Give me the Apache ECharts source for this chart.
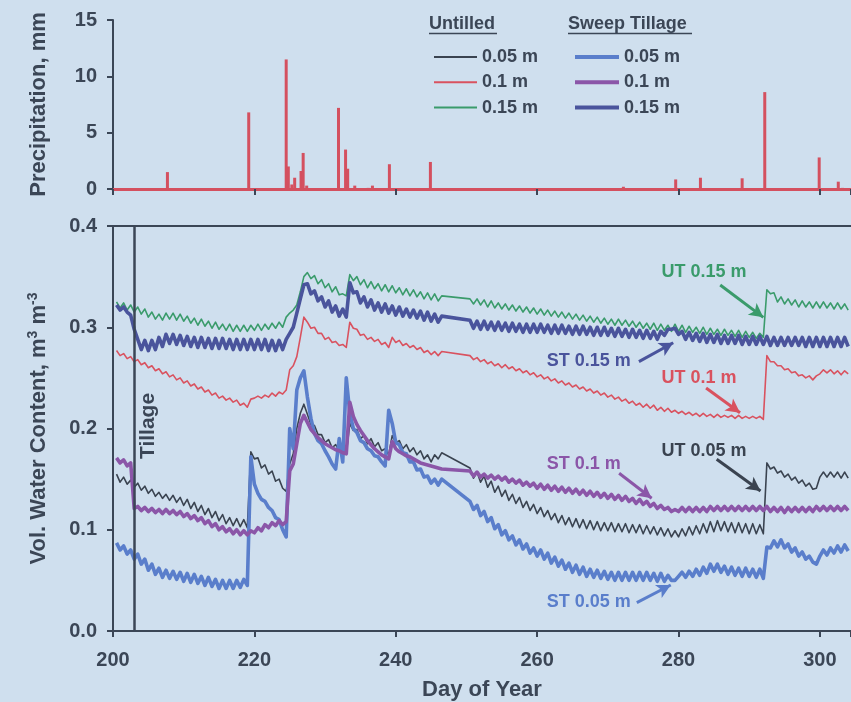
<!DOCTYPE html>
<html>
<head>
<meta charset="utf-8">
<script src="https://cdn.jsdelivr.net/npm/echarts@6/dist/echarts.min.js"></script>
<style>
  html, body { margin: 0; padding: 0; background: #cfdfee; }
  #chart { width: 851px; height: 702px; }
</style>
</head>
<body>
<div id="chart"></div>
<script>
// 降水量 (mm)
const precipDays = [207.7, 219.2, 224.5, 224.8, 225.3, 225.7, 226.6, 226.9, 227.4, 231.9, 232.9, 233.2, 234.2, 236.1, 236.7, 239.1, 244.9, 272.2, 279.6, 283.1, 289.0, 292.2, 299.9, 302.6, 303.2]
const precipMM = [1.5, 6.8, 11.5, 2.0, 0.4, 1.0, 1.6, 3.2, 0.3, 7.2, 3.5, 1.8, 0.3, 0.1, 0.3, 2.2, 2.4, 0.2, 0.85, 1.0, 0.95, 8.6, 2.8, 0.65, 0.1]

// 含水量: 每半天一个读数, 从 200.5 到 304.0 (null = 缺测, 直线连接)
const halfDays = Array.from({ length: 208 }, (_, i) => 200.5 + i * 0.5)

// Untilled 0.05 m
const ut05 = [
  .155, .147, .152, .145, .149, .142, .146, .139, .143, .136, .140, .133, .137, .131, .135, .129, .134, .127, .132, .124, // 200.5-210
  .130, .121, .127, .118, .124, .115, .121, .112, .118, .109, .115, .106, .112, .104, .111, .103, .110, .102, .177, .170, // 210.5-220
  .171, .161, .164, .155, .158, .148, .150, .141, .138, .165, .175, .200, .215, .224, .214, .204, .203, .194, .194, .186, // 220.5-230
  .189, .181, .184, .178, .181, .175, .205, .198, .199, .190, .193, .185, .190, .182, .186, .178, .180, .174, .193, .186, // 230.5-240
  .188, .180, .184, .177, .181, .174, .178, .170, .174, .167, .174, .170, .176, null, null, null, null, null, null, null, // 240.5-250
  .161, .151, .157, .147, .153, .142, .148, .137, .143, .133, .139, .129, .135, .126, .132, .122, .128, .119, .125, .116, // 250.5-260
  .122, .113, .119, .110, .116, .107, .114, .105, .112, .103, .111, .102, .110, .101, .109, .100, .108, .099, .107, .099, // 260.5-270
  .107, .098, .106, .098, .106, .097, .105, .097, .105, .096, .104, .096, .103, .095, .102, .094, .101, .093, .099, .093, // 270.5-280
  .101, .094, .103, .095, .104, .096, .106, .097, .108, .098, .109, .099, .108, .098, .107, .097, .107, .097, .106, .096, // 280.5-290
  .106, .096, .105, .096, .166, .160, .162, .156, .158, .152, .155, .149, .152, .146, .149, .143, .146, .140, .141, .152, // 290.5-300
  .157, .152, .157, .152, .157, .151, .157, .151, // 300.5-304
]

// Untilled 0.1 m
const ut10 = [
  .277, .272, .274, .269, .271, .266, .268, .263, .265, .260, .262, .257, .259, .254, .256, .251, .253, .248, .250, .245,
  .247, .242, .244, .239, .241, .236, .238, .233, .235, .230, .232, .228, .230, .226, .228, .223, .225, .221, .229, .230,
  .232, .230, .233, .231, .235, .232, .236, .234, .238, .258, .262, .271, .290, .310, .305, .299, .300, .294, .294, .288,
  .290, .285, .286, .282, .283, .280, .305, .299, .298, .292, .293, .288, .290, .286, .288, .283, .285, .280, .290, .285,
  .287, .282, .284, .280, .282, .278, .280, .275, .277, .273, .276, .272, .276, null, null, null, null, null, null, null,
  .272, .268, .270, .266, .268, .264, .266, .262, .264, .260, .263, .259, .261, .257, .259, .255, .257, .253, .255, .251,
  .253, .249, .251, .247, .249, .245, .247, .243, .245, .241, .243, .239, .241, .237, .239, .235, .237, .233, .235, .231,
  .233, .229, .231, .227, .229, .225, .227, .223, .225, .221, .224, .220, .223, .218, .221, .217, .220, .216, .218, .215,
  .217, .214, .216, .213, .215, .212, .215, .212, .214, .211, .214, .211, .213, .211, .213, .210, .213, .210, .212, .210,
  .212, .210, .212, .209, .272, .266, .266, .262, .262, .258, .259, .255, .256, .252, .253, .250, .252, .248, .252, .254,
  .258, .255, .258, .254, .257, .253, .257, .254,
]

// Untilled 0.15 m
const ut15 = [
  .325, .319, .324, .317, .322, .315, .320, .313, .318, .310, .315, .308, .313, .307, .314, .308, .314, .307, .313, .306,
  .311, .304, .309, .302, .308, .301, .306, .299, .305, .298, .303, .297, .303, .296, .302, .296, .302, .296, .302, .297,
  .303, .297, .303, .298, .304, .299, .305, .300, .310, .314, .317, .322, .335, .350, .354, .348, .351, .343, .347, .339,
  .343, .335, .340, .332, .333, .331, .352, .346, .350, .342, .347, .339, .345, .338, .343, .336, .342, .335, .341, .334,
  .339, .332, .338, .331, .337, .330, .335, .328, .334, .327, .333, .326, .331, null, null, null, null, null, null, null,
  .328, .323, .328, .322, .327, .320, .326, .319, .324, .318, .323, .317, .322, .316, .321, .315, .320, .314, .319, .313,
  .318, .312, .317, .311, .316, .310, .315, .309, .314, .308, .313, .307, .312, .306, .311, .305, .310, .304, .309, .303,
  .308, .302, .308, .302, .307, .301, .306, .300, .305, .299, .304, .298, .304, .297, .303, .297, .302, .296, .303, .296,
  .302, .295, .301, .295, .300, .294, .300, .293, .299, .293, .298, .292, .298, .292, .297, .291, .297, .290, .296, .290,
  .295, .289, .294, .290, .337, .333, .334, .325, .330, .323, .328, .322, .327, .320, .326, .320, .325, .319, .325, .319,
  .325, .319, .324, .318, .324, .318, .323, .317,
]

// Sweep Tillage 0.05 m
const st05 = [
  .087, .080, .084, .076, .080, .071, .076, .066, .071, .060, .066, .056, .062, .053, .060, .052, .059, .051, .058, .049,
  .057, .048, .056, .047, .054, .045, .053, .044, .051, .042, .050, .042, .050, .042, .050, .043, .051, .045, .172, .145,
  .136, .130, .128, .122, .119, .112, .110, .100, .093, .200, .180, .238, .250, .257, .231, .210, .195, .188, .185, .178,
  .172, .165, .160, .190, .167, .250, .215, .200, .196, .188, .186, .180, .178, .173, .172, .167, .163, .218, .205, .186,
  .184, .176, .175, .167, .167, .159, .160, .152, .153, .146, .150, .144, .150, null, null, null, null, null, null, null,
  .128, .120, .124, .114, .118, .108, .112, .101, .105, .095, .099, .090, .094, .085, .090, .081, .086, .077, .082, .074,
  .080, .071, .077, .067, .073, .064, .070, .061, .067, .058, .065, .056, .063, .054, .061, .053, .060, .052, .059, .051,
  .058, .050, .058, .050, .058, .050, .058, .050, .058, .050, .058, .050, .057, .049, .057, .049, .055, .050, .050, .054,
  .058, .053, .059, .054, .061, .055, .063, .057, .066, .059, .066, .058, .064, .056, .063, .055, .062, .054, .062, .054,
  .061, .053, .061, .052, .083, .082, .089, .083, .090, .082, .086, .078, .082, .074, .078, .071, .074, .068, .066, .074,
  .080, .075, .082, .077, .084, .078, .085, .079,
]

// Sweep Tillage 0.1 m
const st10 = [
  .171, .166, .169, .163, .166, .121, .123, .119, .122, .118, .121, .117, .120, .116, .120, .116, .119, .115, .118, .113,
  .116, .111, .114, .109, .112, .106, .109, .103, .106, .100, .103, .098, .101, .096, .100, .095, .099, .095, .099, .097,
  .102, .099, .105, .102, .107, .104, .109, .105, .108, .158, .165, .185, .205, .213, .206, .199, .195, .191, .188, .185,
  .183, .181, .179, .178, .176, .175, .226, .212, .204, .198, .193, .188, .184, .180, .177, .174, .172, .170, .187, .180,
  .177, .175, .173, .172, .170, .168, .166, .165, .164, .163, .162, .161, .160, null, null, null, null, null, null, null,
  .158, .153, .157, .152, .155, .151, .154, .150, .153, .149, .152, .147, .150, .146, .149, .144, .147, .143, .146, .141,
  .145, .140, .144, .139, .143, .138, .142, .137, .141, .136, .140, .135, .139, .134, .138, .133, .137, .132, .136, .131,
  .135, .130, .134, .129, .133, .128, .131, .126, .130, .125, .128, .123, .126, .121, .124, .120, .122, .118, .120, .118,
  .122, .118, .122, .118, .122, .118, .122, .118, .123, .119, .123, .119, .123, .119, .123, .119, .123, .119, .123, .119,
  .123, .119, .123, .119, .123, .118, .122, .118, .122, .117, .122, .118, .122, .118, .122, .118, .122, .118, .123, .119,
  .123, .119, .123, .119, .123, .119, .123, .119,
]

// Sweep Tillage 0.15 m
const st15 = [
  .322, .317, .320, .315, .312, .298, .288, .278, .287, .277, .287, .278, .290, .281, .293, .284, .293, .283, .292, .282,
  .291, .281, .290, .280, .290, .280, .289, .279, .289, .279, .289, .279, .288, .278, .288, .278, .288, .278, .288, .278,
  .288, .278, .288, .277, .287, .277, .287, .278, .288, .294, .300, .314, .328, .342, .343, .333, .336, .326, .330, .320,
  .326, .315, .321, .311, .318, .310, .344, .334, .335, .324, .330, .320, .327, .317, .324, .315, .323, .314, .321, .312,
  .320, .311, .318, .310, .317, .309, .316, .307, .315, .306, .313, .305, .311, null, null, null, null, null, null, null,
  .307, .299, .306, .298, .306, .298, .305, .297, .305, .297, .304, .296, .304, .296, .303, .295, .303, .295, .303, .295,
  .303, .295, .302, .294, .302, .294, .302, .294, .301, .293, .301, .293, .301, .293, .300, .292, .300, .292, .300, .292,
  .299, .291, .299, .291, .298, .290, .298, .290, .297, .289, .297, .289, .296, .288, .296, .292, .298, .298, .299, .293,
  .296, .288, .295, .287, .294, .286, .294, .285, .293, .285, .293, .284, .292, .284, .292, .284, .292, .283, .291, .283,
  .291, .283, .291, .283, .291, .282, .290, .282, .290, .282, .290, .282, .290, .282, .290, .281, .290, .281, .290, .281,
  .290, .281, .290, .281, .290, .281, .290, .281,
]

const tillageDay = 203
const xTicks = [200, 220, 240, 260, 280, 300]

const TXT = "#3b4656"
const FONT = "Liberation Sans, Arial, sans-serif"
const C = {
  ut05: "#3a4350", ut10: "#d9525f", ut15: "#3a9b6b",
  st05: "#5a7ecb", st10: "#8b56a8", st15: "#4a549c",
  rain: "#d4505f",
}

const zip = (xs, ys) => xs.map((x, i) => [x, ys[i]])

// 箭头 + 标注文字
function note(text, color, at, from, to) {
  return {
    markLine: {
      silent: true, symbol: ["none", "arrow"], symbolSize: [11, 14],
      lineStyle: { color, width: 3, type: "solid" }, label: { show: false },
      data: [[{ coord: from }, { coord: to }]],
    },
    markPoint: {
      silent: true, symbol: "circle", symbolSize: 0,
      label: { show: true, position: "inside", formatter: "{b}", color, fontSize: 18, fontWeight: "bold", fontFamily: FONT },
      data: [{ name: text, coord: at }],
    },
  }
}

function line(name, ys, color, width, extra) {
  return Object.assign({
    name, type: "line", xAxisIndex: 1, yAxisIndex: 1,
    data: zip(halfDays, ys), showSymbol: false, symbol: "none",
    connectNulls: true, lineStyle: { color, width, join: "round" }, itemStyle: { color },
  }, extra || {})
}

const xCommon = {
  type: "value", min: 200, max: 304.4, interval: 20,
  splitLine: { show: false },
  axisLine: { lineStyle: { color: TXT, width: 2 } },
  axisTick: { lineStyle: { color: TXT, width: 2 }, length: 6 },
}

const yCommon = {
  type: "value", nameLocation: "middle",
  splitLine: { show: false },
  axisLine: { show: true, lineStyle: { color: TXT, width: 2 } },
  axisTick: { show: true, lineStyle: { color: TXT, width: 2 }, length: 6 },
}

const tickText = { color: TXT, fontSize: 20, fontWeight: "bold" }
const nameText = { color: TXT, fontSize: 22, fontWeight: "bold" }
const legendText = { color: TXT, fontSize: 18, fontWeight: "bold" }

const chart = echarts.init(document.getElementById("chart"))
const option = {
  animation: false,
  backgroundColor: "#cfdfee",
  textStyle: { fontFamily: FONT },
  grid: [
    { left: 113, right: 0, top: 20, height: 169, outerBoundsMode: "none" },
    { left: 113, right: 0, top: 226, height: 405, outerBoundsMode: "none" },
  ],
  xAxis: [
    Object.assign({}, xCommon, {
      gridIndex: 0, axisLabel: { show: false },
      axisLine: { lineStyle: { color: C.rain, width: 3 } },
    }),
    Object.assign({}, xCommon, {
      gridIndex: 1,
      name: "Day of Year", nameLocation: "middle", nameGap: 48,
      nameTextStyle: nameText,
      axisLabel: Object.assign({}, tickText, {
        margin: 19,
        formatter: v => (xTicks.includes(v) ? String(v) : ""),
      }),
    }),
    // 下图上边框
    Object.assign({}, xCommon, {
      gridIndex: 1, position: "top",
      axisTick: { show: false }, axisLabel: { show: false },
    }),
  ],
  yAxis: [
    Object.assign({}, yCommon, {
      gridIndex: 0, min: 0, max: 15, interval: 5,
      name: "Precipitation, mm", nameGap: 63,
      nameTextStyle: nameText,
      axisLabel: Object.assign({}, tickText, { margin: 16 }),
    }),
    Object.assign({}, yCommon, {
      gridIndex: 1, min: 0, max: 0.4, interval: 0.1,
      name: "Vol. Water Content, m{sup|3} m{sup|-3}", nameGap: 62,
      nameTextStyle: Object.assign({}, nameText, {
        rich: { sup: { color: TXT, fontSize: 14, fontWeight: "bold", padding: [0, 0, 11, 0] } },
      }),
      axisLabel: Object.assign({}, tickText, { margin: 16, formatter: v => v.toFixed(1) }),
    }),
  ],
  legend: [
    {
      left: 429, top: 43, orient: "vertical", itemWidth: 43, itemHeight: 2, itemGap: 7.3,
      data: ["UT 0.05 m", "UT 0.1 m", "UT 0.15 m"].map(n => ({ name: n, icon: "rect" })),
      formatter: n => n.replace("UT ", ""),
      textStyle: legendText,
    },
    {
      left: 570, top: 43, orient: "vertical", itemWidth: 44, itemHeight: 4, itemGap: 7.3,
      data: ["ST 0.05 m", "ST 0.1 m", "ST 0.15 m"].map(n => ({ name: n, icon: "rect" })),
      formatter: n => n.replace("ST ", ""),
      textStyle: legendText,
    },
  ],
  // 图例标题 (带下划线)
  graphic: [
    { type: "text", left: 429, top: 15, style: { text: "Untilled", fill: TXT, font: "bold 18px " + FONT } },
    { type: "line", shape: { x1: 429, y1: 33.5, x2: 497, y2: 33.5 }, style: { stroke: TXT, lineWidth: 1.5 } },
    { type: "text", left: 568, top: 15, style: { text: "Sweep Tillage", fill: TXT, font: "bold 18px " + FONT } },
    { type: "line", shape: { x1: 568, y1: 33.5, x2: 692, y2: 33.5 }, style: { stroke: TXT, lineWidth: 1.5 } },
  ],
  series: [
    {
      name: "Precipitation", type: "bar", xAxisIndex: 0, yAxisIndex: 0,
      data: zip(precipDays, precipMM), barWidth: 3,
      itemStyle: { color: C.rain },
    },
    // 耕作日竖线
    {
      name: "Tillage", type: "line", xAxisIndex: 1, yAxisIndex: 1, data: [],
      markLine: {
        silent: true, symbol: "none", label: { show: false },
        lineStyle: { color: TXT, width: 2.5, type: "solid" },
        data: [{ xAxis: tillageDay }],
      },
      markPoint: {
        silent: true, symbol: "circle", symbolSize: 0,
        label: { show: true, position: "inside", formatter: "{b}", rotate: 90, color: TXT, fontSize: 21, fontWeight: "bold", fontFamily: FONT },
        data: [{ name: "Tillage", coord: [205.0, 0.2025] }],
      },
    },
    line("UT 0.05 m", ut05, C.ut05, 1.6,
      note("UT 0.05 m", C.ut05, [283.6, 0.178], [285.4, 0.1696], [291.6, 0.1383])),
    line("UT 0.1 m", ut10, C.ut10, 1.6,
      note("UT 0.1 m", C.ut10, [282.9, 0.2502], [283.9, 0.240], [288.7, 0.2156])),
    line("UT 0.15 m", ut15, C.ut15, 1.6,
      note("UT 0.15 m", C.ut15, [283.6, 0.3543], [285.9, 0.3417], [292.0, 0.3098])),
    line("ST 0.05 m", st05, C.st05, 3.6,
      note("ST 0.05 m", C.st05, [267.3, 0.0283], [274.1, 0.028], [278.9, 0.0454])),
    line("ST 0.1 m", st10, C.st10, 3.6,
      note("ST 0.1 m", C.st10, [266.6, 0.165], [271.6, 0.1558], [276.2, 0.1311])),
    line("ST 0.15 m", st15, C.st15, 3.6,
      note("ST 0.15 m", C.st15, [267.3, 0.267], [274.4, 0.266], [279.25, 0.2847])),
  ],
}
chart.setOption(option)
</script>
</body>
</html>
